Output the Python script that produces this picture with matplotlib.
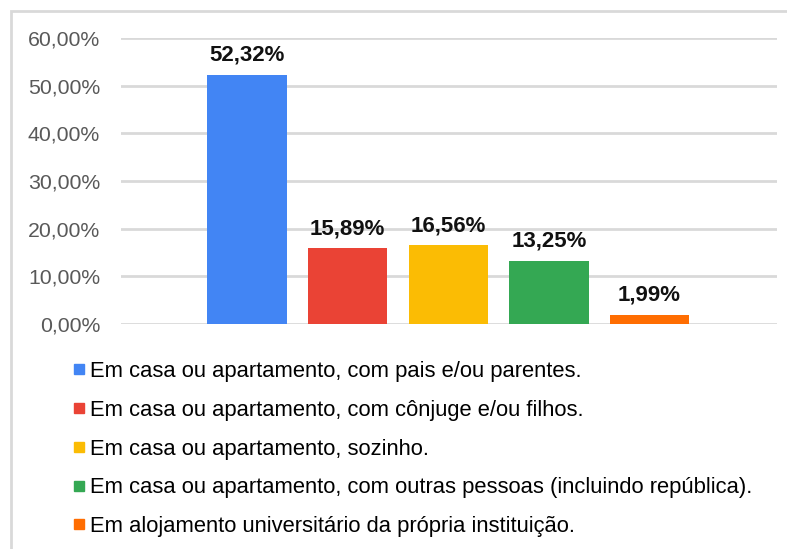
import matplotlib
matplotlib.use("Agg")
import matplotlib.pyplot as plt
from matplotlib.lines import Line2D
from matplotlib.patches import Rectangle
from matplotlib.ticker import FuncFormatter

categories = [
    "Em casa ou apartamento, com pais e/ou parentes.",
    "Em casa ou apartamento, com cônjuge e/ou filhos.",
    "Em casa ou apartamento, sozinho.",
    "Em casa ou apartamento, com outras pessoas (incluindo república).",
    "Em alojamento universitário da própria instituição.",
]
values = [52.32, 15.89, 16.56, 13.25, 1.99]
colors = ["#4285F4", "#EA4335", "#FBBC04", "#34A853", "#FF6D01"]
yticks = [0, 10, 20, 30, 40, 50, 60]

plt.rcParams['font.family'] = ['Liberation Sans', 'DejaVu Sans']

fig = plt.figure(figsize=(7.87, 5.49), dpi=100)
ax = fig.add_axes([121/787, 1-324/549, (777-121)/787, (324-38)/549])

x = list(range(len(values)))
bars = ax.bar(x, values, width=0.79, color=colors, zorder=3)
ax.set_xlim(-1.253, 5.268)
ax.set_ylim(0, 60)
ax.set_yticks(yticks)
ax.yaxis.set_major_formatter(FuncFormatter(lambda v, p: f"{v:.2f}%".replace(".", ",")))
ax.tick_params(axis='y', length=0, labelsize=15.3, labelcolor="#595959", pad=15)
ax.tick_params(axis='x', length=0, labelbottom=False)
for s in ax.spines.values():
    s.set_visible(False)
ax.grid(axis='y', color="#D9D9D9", linewidth=2, zorder=0)

for b, v in zip(bars, values):
    ax.annotate(f"{v:.2f}%".replace(".", ","), (b.get_x() + b.get_width()/2, v),
                xytext=(0, 10), textcoords="offset points", ha="center", va="baseline",
                fontsize=16, fontweight="bold", color="#111111")

lsize = 15.8
fs_px = lsize * 100 / 72
handles = [Line2D([], [], marker='s', linestyle='none', markersize=7,
                  markerfacecolor=c, markeredgecolor=c) for c in colors]

def make_legend(ls):
    return fig.legend(handles, categories, loc="center left",
                      bbox_to_anchor=(74/787, 1-449/549),
                      frameon=False, handlelength=0.48, handletextpad=0.25,
                      borderpad=0, borderaxespad=0,
                      labelspacing=ls, prop={'size': lsize})

ls = 0.9
leg = make_legend(ls)
fig.canvas.draw()
r = fig.canvas.get_renderer()
texts = leg.get_texts()
c0 = texts[0].get_window_extent(r)
c4 = texts[-1].get_window_extent(r)
span = ((c0.y0 + c0.y1) - (c4.y0 + c4.y1)) / 2
target = 526 - 371
ls = ls + (target - span) / 4 / fs_px
leg.remove()
leg = make_legend(ls)

# outer border
fig.patches.append(Rectangle((11/787, -0.05), 1.2, 1 - 11/549 + 0.05, transform=fig.transFigure,
                             fill=False, edgecolor="#D9D9D9", linewidth=2))

fig.savefig("out.png", dpi=100)
